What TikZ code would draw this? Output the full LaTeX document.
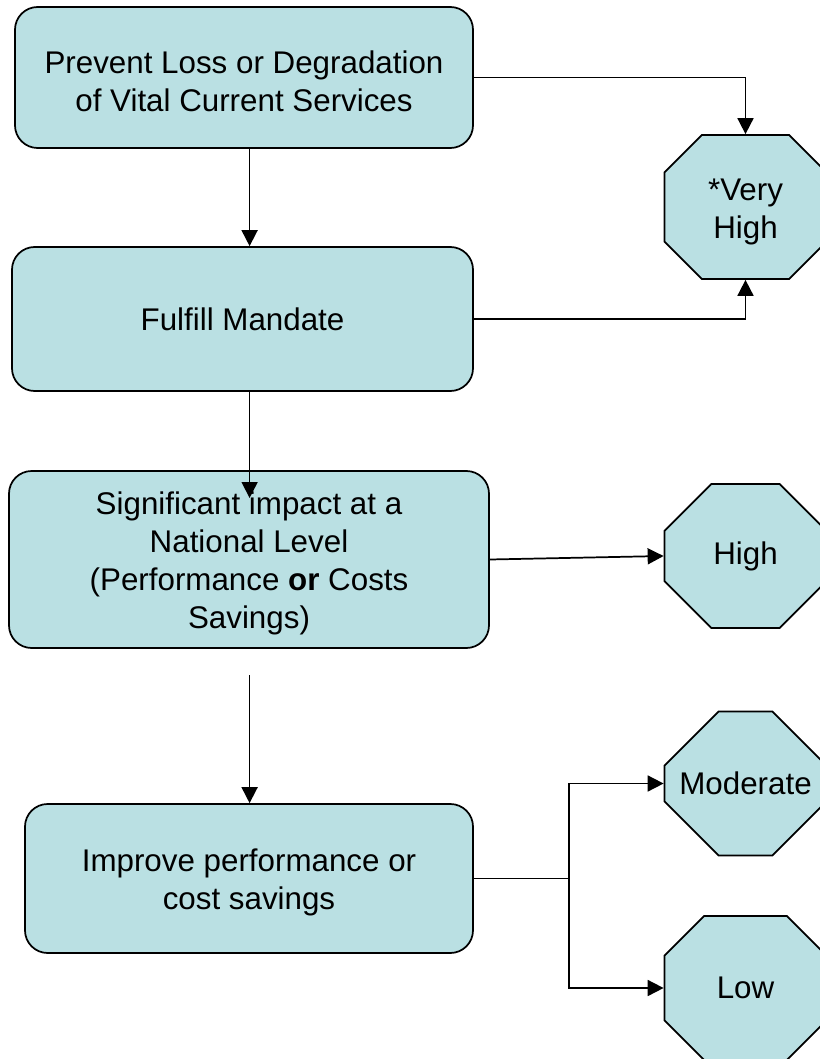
\documentclass[tikz,border=0pt]{standalone}
\usepackage{fontspec}
\setmainfont{Liberation Sans}
\usepackage{xcolor}
\usetikzlibrary{arrows.meta,calc,positioning,shapes.misc}
\definecolor{boxfill}{RGB}{186,224,227}

\begin{document}
\begin{tikzpicture}[x=0.75pt,y=-0.75pt,line width=1.3pt,
    every node/.style={font=\fontsize{23.5}{28.5}\selectfont,align=center,inner sep=0pt},
    stage/.style={draw,fill=boxfill,rounded corners=17pt},
    level/.style={draw,fill=boxfill,chamfered rectangle,chamfered rectangle sep=32pt,
      minimum width=121.5pt,minimum height=108pt},
    arr/.style={-{Triangle[length=12pt,width=12pt]}}]
  \useasboundingbox (0,0) rectangle (819,1059);
  \node[stage,minimum width=343.5pt,minimum height=105.75pt] (loss) at (244,77.5)
    {\rule{0pt}{23pt}Prevent Loss or Degradation\\of Vital Current Services};
  \node[stage,minimum width=345.75pt,minimum height=108pt] (mandate) at (242.5,319)
    {Fulfill Mandate};
  \node[stage,minimum width=360pt,minimum height=132.75pt] (national) at (249,559.5)
    {\rule{0pt}{23pt}Significant impact at a\\National Level\\(Performance \textbf{or} Costs\\Savings)};
  \node[stage,minimum width=336pt,minimum height=111.75pt] (improve) at (249,878.5)
    {\rule{0pt}{23pt}Improve performance or\\cost savings};
  \node[level,align=none] (vhigh) at (745.5,207)
    {\smash{\raisebox{-10pt}{\begin{tabular}{@{}c@{}}*Very\\High\end{tabular}}}};
  \node[level] (high) at (745.5,556) {High};
  \node[level] (moderate) at (745.5,783.5) {Moderate};
  \node[level] (low) at (745.5,988) {Low};
  \coordinate (spine) at (249.6,0);
  \coordinate (hit) at (249.6,498);
  \coordinate (gap) at (249.6,675);
  \coordinate (fork) at (569,878.5);
  \draw[arr] (loss.east) -| (vhigh.north);
  \draw[arr] (spine |- loss.south) -- (spine |- mandate.north);
  \draw[arr] (mandate.east) -| (vhigh.south);
  \draw[arr] (spine |- mandate.south) -- (hit);
  \draw[arr] (national.east) -- (high.west);
  \draw[arr] (gap) -- (spine |- improve.north);
  \draw (improve.east) -- (fork);
  \draw[arr] (fork) |- (moderate.west);
  \draw[arr] (fork) |- (low.west);
\end{tikzpicture}
\end{document}
